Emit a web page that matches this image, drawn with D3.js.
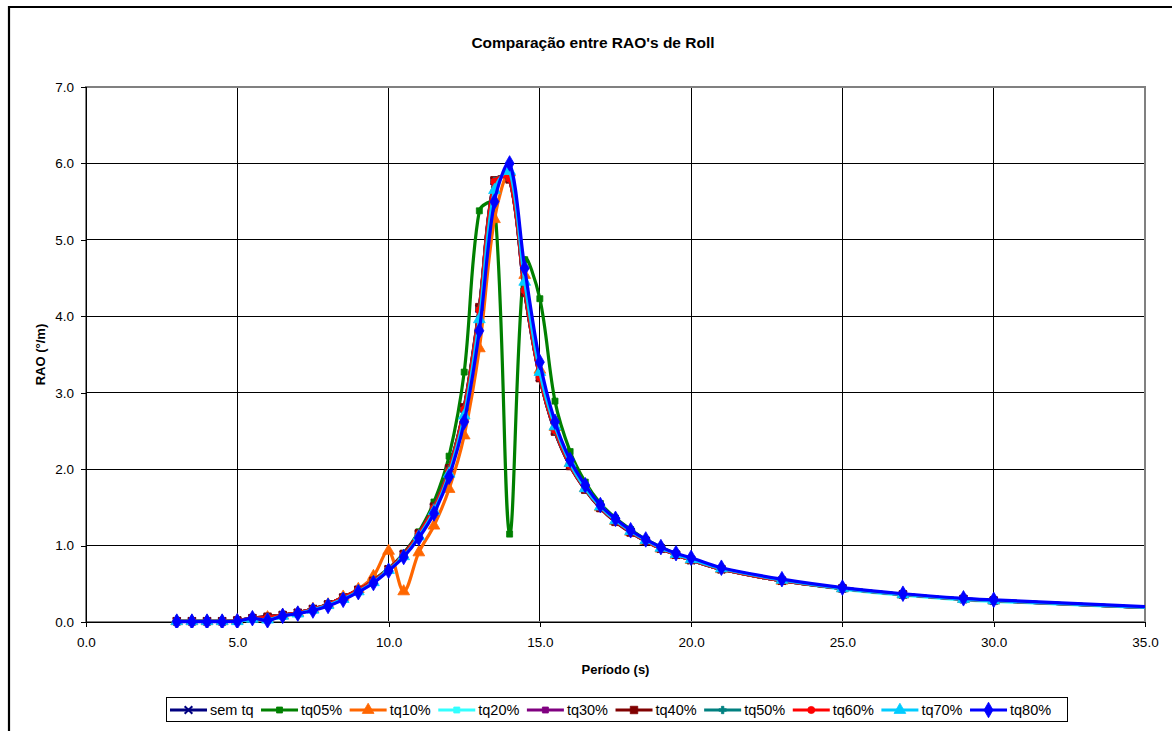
<!DOCTYPE html>
<html><head><meta charset="utf-8">
<script src="https://cdn.jsdelivr.net/npm/d3@7"></script>
<style>body{margin:0;background:#fff}svg{display:block}text{font-family:"Liberation Sans",Arial,sans-serif}</style>
</head><body>
<svg id="c" width="1176" height="731"></svg>
<script>
const title = "Comparação entre RAO's de Roll";
const xTitle = "Período (s)";
const yTitle = "RAO (°/m)";
const xTicks = [0,5,10,15,20,25,30,35];
const yTicks = [0,1,2,3,4,5,6,7];
const periods = [3.0,3.5,4.0,4.5,5.0,5.5,6.0,6.5,7.0,7.5,8.0,8.5,9.0,9.5,10.0,10.5,11.0,11.5,12.0,12.5,13.0,13.5,14.0,14.5,15.0,15.5,16.0,16.5,17.0,17.5,18.0,18.5,19.0,19.5,20.0,21,23,25,27,29,30,35];
const semTq = [0.01,0.01,0.01,0.01,0.02,0.05,0.06,0.09,0.12,0.17,0.23,0.32,0.42,0.54,0.69,0.88,1.15,1.50,2.00,2.79,4.10,5.77,5.80,4.32,3.20,2.50,2.05,1.74,1.50,1.32,1.18,1.06,0.96,0.88,0.81,0.69,0.54,0.44,0.36,0.30,0.28,0.19];
const tq05 = [0.01,0.01,0.01,0.01,0.02,0.05,0.07,0.09,0.12,0.17,0.23,0.32,0.42,0.55,0.70,0.90,1.18,1.57,2.17,3.27,5.38,5.48,1.15,4.74,4.23,2.89,2.23,1.83,1.55,1.36,1.21,1.08,0.98,0.89,0.82,0.70,0.55,0.44,0.36,0.30,0.28,0.19];
const tq10 = [0.01,0.01,0.01,0.01,0.02,0.05,0.06,0.09,0.12,0.17,0.23,0.33,0.43,0.60,0.93,0.40,0.91,1.26,1.74,2.44,3.58,5.27,5.88,4.54,3.30,2.55,2.08,1.75,1.50,1.32,1.18,1.06,0.96,0.88,0.81,0.69,0.54,0.44,0.36,0.30,0.28,0.19];
const tq20 = [0.01,0.01,0.01,0.01,0.01,0.04,0.03,0.08,0.11,0.16,0.22,0.30,0.40,0.52,0.68,0.86,1.12,1.46,1.95,2.71,3.96,5.65,5.90,4.45,3.26,2.55,2.07,1.74,1.50,1.32,1.18,1.06,0.96,0.88,0.81,0.69,0.54,0.43,0.35,0.29,0.27,0.19];
const tq30 = [0.01,0.01,0.01,0.01,0.02,0.05,0.07,0.09,0.12,0.17,0.23,0.32,0.42,0.54,0.69,0.89,1.16,1.51,2.01,2.81,4.12,5.78,5.79,4.31,3.19,2.49,2.04,1.73,1.49,1.31,1.17,1.06,0.96,0.88,0.81,0.69,0.54,0.44,0.36,0.30,0.28,0.19];
const tq40 = [0.01,0.01,0.01,0.01,0.02,0.05,0.07,0.09,0.12,0.17,0.23,0.32,0.42,0.54,0.69,0.89,1.16,1.51,2.01,2.81,4.12,5.78,5.79,4.31,3.19,2.49,2.04,1.73,1.49,1.31,1.17,1.06,0.96,0.88,0.81,0.69,0.54,0.44,0.36,0.30,0.28,0.19];
const tq50 = [0.01,0.01,0.01,0.01,0.02,0.05,0.06,0.09,0.12,0.17,0.23,0.32,0.42,0.54,0.69,0.88,1.15,1.50,2.00,2.79,4.10,5.77,5.80,4.33,3.20,2.50,2.05,1.74,1.50,1.32,1.18,1.06,0.96,0.88,0.81,0.69,0.54,0.44,0.36,0.30,0.28,0.19];
const tq60 = [0.01,0.01,0.01,0.01,0.02,0.05,0.06,0.09,0.12,0.17,0.23,0.32,0.42,0.54,0.69,0.88,1.15,1.49,1.98,2.78,4.08,5.76,5.80,4.34,3.20,2.51,2.05,1.74,1.50,1.32,1.18,1.06,0.96,0.88,0.81,0.69,0.54,0.44,0.36,0.30,0.28,0.19];
const tq70 = [0.01,0.01,0.01,0.01,0.01,0.04,0.03,0.08,0.11,0.16,0.22,0.30,0.40,0.52,0.68,0.86,1.12,1.45,1.94,2.70,3.96,5.65,5.90,4.45,3.27,2.56,2.08,1.75,1.51,1.33,1.19,1.07,0.97,0.89,0.82,0.70,0.55,0.44,0.36,0.30,0.28,0.19];
const tq80 = [0.005,0.005,0.005,0.005,0.01,0.05,0.02,0.08,0.11,0.15,0.21,0.29,0.39,0.51,0.67,0.85,1.10,1.42,1.90,2.62,3.81,5.50,6.00,4.63,3.40,2.62,2.12,1.79,1.53,1.35,1.20,1.08,0.98,0.90,0.84,0.71,0.56,0.45,0.37,0.31,0.29,0.20];

const seriesNames = ["sem tq","tq05%","tq10%","tq20%","tq30%","tq40%","tq50%","tq60%","tq70%","tq80%"];
const seriesValues = [semTq,tq05,tq10,tq20,tq30,tq40,tq50,tq60,tq70,tq80];
const seriesColors = ["#000080","#008000","#FF6600","#33FFFF","#800080","#800000","#008080","#FF0000","#00CCFF","#0000FF"];
const seriesMarkers = ["times","square","triangle","square","square","square","plus","circle","triangle","diamond"];
const seriesMarkerSizes = [40,36,60,36,36,56,30,40,60,70];

const svg = d3.select("#c");
const L=86,R=1145,T=87,B=622;
const x = d3.scaleLinear().domain([0,35]).range([L,R]);
const y = d3.scaleLinear().domain([0,7]).range([B,T]);

// outer chart frame (left & top visible)
svg.append("path").attr("d",`M9,731 L9,7 L1172,7`).attr("fill","none").attr("stroke","#000").attr("stroke-width",2.2);

// title
svg.append("text").attr("x",593).attr("y",48).attr("text-anchor","middle")
  .attr("font-size",15.5).attr("font-weight","bold").text(title);

// gridlines
const g = svg.append("g");
g.selectAll(".hg").data(yTicks.filter(d=>d>0&&d<7)).join("line")
  .attr("x1",L).attr("x2",R).attr("y1",d=>y(d)).attr("y2",d=>y(d))
  .attr("stroke","#000").attr("stroke-width",1).attr("shape-rendering","crispEdges");
g.selectAll(".vg").data(xTicks.filter(d=>d>0&&d<35)).join("line")
  .attr("y1",T).attr("y2",B).attr("x1",d=>x(d)).attr("x2",d=>x(d))
  .attr("stroke","#000").attr("stroke-width",1).attr("shape-rendering","crispEdges");
// plot border
svg.append("rect").attr("x",L).attr("y",T).attr("width",R-L).attr("height",B-T)
  .attr("fill","none").attr("stroke","#808080").attr("stroke-width",1.5).attr("shape-rendering","crispEdges");

// axes
const fmt = d3.format(".1f");
const xAxis = svg.append("g").attr("transform",`translate(0,${B})`)
  .call(d3.axisBottom(x).tickValues(xTicks).tickFormat(fmt).tickSize(5).tickPadding(10));
const yAxis = svg.append("g").attr("transform",`translate(${L},0)`)
  .call(d3.axisLeft(y).tickValues(yTicks).tickFormat(fmt).tickSize(5).tickPadding(7));
[xAxis,yAxis].forEach(a=>{
  a.select(".domain").attr("stroke","#000").attr("shape-rendering","crispEdges");
  a.selectAll(".tick line").attr("stroke","#000").attr("shape-rendering","crispEdges");
  a.selectAll("text").attr("font-size",13.5).attr("fill","#000").attr("font-family",'"Liberation Sans",Arial,sans-serif');
});
xAxis.selectAll("text").attr("dy","0.71em");

// axis titles
svg.append("text").attr("x",(L+R)/2).attr("y",674).attr("text-anchor","middle")
  .attr("font-size",13).attr("font-weight","bold").text(xTitle);
svg.append("text").attr("transform",`translate(45,${(T+B)/2}) rotate(-90)`).attr("text-anchor","middle")
  .attr("font-size",13).attr("font-weight","bold").text(yTitle);

// markers
function symType(n){
  switch(n){
    case "square": return d3.symbolSquare;
    case "triangle": return d3.symbolTriangle;
    case "diamond": return d3.symbolDiamond;
    case "circle": return d3.symbolCircle;
    case "plus": return d3.symbolCross;
    case "times": return d3.symbolTimes || d3.symbolCross;
  }
}
function drawMarker(sel, i){
  const m = seriesMarkers[i];
  const p = d3.symbol().type(symType(m)).size(seriesMarkerSizes[i])();
  sel.append("path").attr("d",p)
    .attr("fill", m==="times" ? "none" : seriesColors[i])
    .attr("stroke", seriesColors[i])
    .attr("stroke-width", m==="times" ? 2 : 0.8);
}

// Excel-like smoothed line: Bezier with tangents split by adjacent segment lengths
function smoothPath(pts){
  const p = d3.path();
  const n = pts.length;
  p.moveTo(pts[0][0], pts[0][1]);
  const dist = (a,b)=>Math.hypot(b[0]-a[0], b[1]-a[1]);
  const ctrl = (i)=>{
    const prev = pts[Math.max(0,i-1)], next = pts[Math.min(n-1,i+1)], cur = pts[i];
    const d0 = i>0 ? dist(prev,cur) : 0, d1 = i<n-1 ? dist(cur,next) : 0;
    const s = d0+d1 || 1;
    const mx = next[0]-prev[0], my = next[1]-prev[1];
    return {
      inC: [cur[0]-mx*(d0/s)/3, cur[1]-my*(d0/s)/3],
      outC:[cur[0]+mx*(d1/s)/3, cur[1]+my*(d1/s)/3]
    };
  };
  const cs = pts.map((_,i)=>ctrl(i));
  for(let i=0;i<n-1;i++){
    const a = cs[i].outC, b = cs[i+1].inC;
    p.bezierCurveTo(a[0],a[1],b[0],b[1],pts[i+1][0],pts[i+1][1]);
  }
  return p.toString();
}

svg.append("clipPath").attr("id","pc").append("rect").attr("x",L-6).attr("y",T-6).attr("width",R-L+6).attr("height",B-T+12);
const plot = svg.append("g").attr("clip-path","url(#pc)");

seriesValues.forEach((vals,i)=>{
  const data = periods.map((p,k)=>[p,vals[k]]);
  const pts = data.map(d=>[x(d[0]), y(d[1])]);
  plot.append("path").attr("d",smoothPath(pts))
    .attr("fill","none").attr("stroke",seriesColors[i]).attr("stroke-width",3.2).attr("stroke-linejoin","round");
  const mg = plot.append("g");
  data.filter(d=>d[0]<35).forEach(d=>{
    const s = mg.append("g").attr("transform",`translate(${x(d[0])},${y(d[1])})`);
    drawMarker(s,i);
  });
});

// legend
const lg = svg.append("g");
lg.append("rect").attr("x",166).attr("y",697).attr("width",901).attr("height",24)
  .attr("fill","#fff").attr("stroke","#000").attr("stroke-width",1).attr("shape-rendering","crispEdges");
let cx = 170;
const ly = 710;
seriesNames.forEach((n,i)=>{
  lg.append("line").attr("x1",cx).attr("x2",cx+37).attr("y1",ly).attr("y2",ly)
    .attr("stroke",seriesColors[i]).attr("stroke-width",3.2);
  const s = lg.append("g").attr("transform",`translate(${cx+18.5},${ly})`);
  drawMarker(s,i);
  const t = lg.append("text").attr("x",cx+40).attr("y",ly+5).attr("font-size",14.5).text(n);
  cx = cx + 40 + t.node().getComputedTextLength() + 7.5;
});
</script>
</body></html>
